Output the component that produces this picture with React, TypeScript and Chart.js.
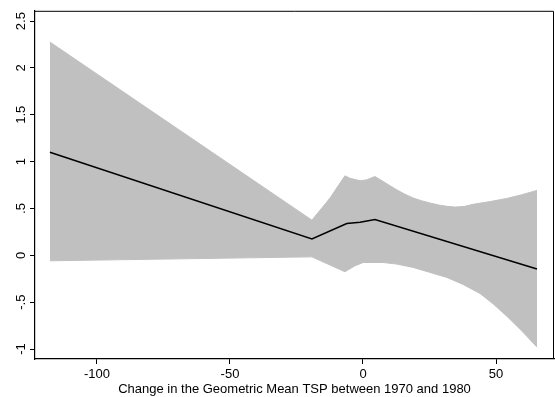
import React, { useEffect, useRef } from "react";
import { Chart, registerables } from "chart.js";

Chart.register(...registerables);

// ---- data ----
const xTicks = [-100, -50, 0, 50];
const yTicks = [-1, -0.5, 0, 0.5, 1, 1.5, 2, 2.5];
const yTickLabels = ["-1", "-.5", "0", ".5", "1", "1.5", "2", "2.5"];
const xTitle = "Change in the Geometric Mean TSP between 1970 and 1980";

const fitX = [-117.7, -19.2, -6.1, -1.1, 4.5, 65.4];
const fitY = [1.1, 0.175, 0.341, 0.354, 0.383, -0.146];

const upperX = [-117.7, -19.2, -12.4, -6.8, -4.9, -1.1, 1.4, 4.5, 7.6, 10.2, 12.7, 15.8, 18.9, 22.0, 25.2, 28.4, 31.5, 34.6, 38.0, 41.4, 47.8, 54.1, 59.8, 65.4];
const upperY = [2.277, 0.376, 0.612, 0.849, 0.823, 0.796, 0.806, 0.841, 0.788, 0.742, 0.7, 0.652, 0.612, 0.583, 0.559, 0.538, 0.524, 0.515, 0.522, 0.545, 0.574, 0.608, 0.648, 0.693];

const lowerX = [-117.7, -19.2, -6.8, -3.0, 0.1, 3.9, 7.6, 12.7, 18.9, 25.2, 31.5, 37.6, 44.0, 49.0, 54.1, 59.8, 65.4];
const lowerY = [-0.058, -0.016, -0.175, -0.111, -0.076, -0.076, -0.076, -0.093, -0.129, -0.182, -0.235, -0.31, -0.407, -0.52, -0.651, -0.81, -0.979];

const X_MIN = -123.3;
const X_MAX = 71.8;
const Y_MIN = -1.106;
const Y_MAX = 2.61;

const FONT = '"Liberation Sans", Arial, Helvetica, sans-serif';
const BAND = "rgb(192,192,192)";

const pts = (xs: number[], ys: number[]) => xs.map((x, i) => ({ x, y: ys[i] }));

const framePlugin = {
  id: "frameAndYLabels",
  afterDraw(chart: any) {
    const { ctx, chartArea } = chart;
    const { left, top, right, bottom } = chartArea;
    ctx.save();
    ctx.strokeStyle = "#000";
    ctx.lineWidth = 1;
    ctx.beginPath();
    ctx.moveTo(left, top + 0.5);
    ctx.lineTo(right - 0.5, top + 0.5);
    ctx.lineTo(right - 0.5, bottom);
    ctx.stroke();
    // rotated y tick labels
    const ys = chart.scales.y;
    ctx.fillStyle = "#000";
    ctx.font = `13px ${FONT}`;
    ctx.textAlign = "center";
    ctx.textBaseline = "middle";
    yTicks.forEach((v, i) => {
      const py = ys.getPixelForValue(v);
      ctx.save();
      ctx.translate(21, py);
      ctx.rotate(-Math.PI / 2);
      ctx.fillText(yTickLabels[i], 0, 0);
      ctx.restore();
    });
    ctx.restore();
  },
};

export default function App() {
  const ref = useRef<HTMLCanvasElement | null>(null);
  useEffect(() => {
    document.body.style.margin = "0";
    const canvas = ref.current!;
    const chart = new Chart(canvas, {
      type: "line",
      data: {
        datasets: [
          {
            data: pts(fitX, fitY),
            borderColor: "#000",
            borderWidth: 1.6,
            pointRadius: 0,
            fill: false,
            tension: 0,
          },
          {
            data: pts(upperX, upperY),
            borderColor: BAND,
            backgroundColor: BAND,
            borderWidth: 1,
            pointRadius: 0,
            fill: "+1",
            tension: 0,
          },
          {
            data: pts(lowerX, lowerY),
            borderColor: BAND,
            backgroundColor: BAND,
            borderWidth: 1,
            pointRadius: 0,
            fill: false,
            tension: 0,
          },
        ],
      },
      options: {
        animation: false,
        responsive: false,
        maintainAspectRatio: false,
        layout: { padding: { top: 8, right: 1, left: 0, bottom: 0 } },
        plugins: { legend: { display: false }, tooltip: { enabled: false } },
        scales: {
          x: {
            type: "linear",
            min: X_MIN,
            max: X_MAX,
            afterBuildTicks: (s: any) => {
              s.ticks = xTicks.map((v) => ({ value: v }));
            },
            afterFit: (s: any) => {
              s.height = 38;
            },
            grid: {
              display: true,
              drawOnChartArea: false,
              drawTicks: true,
              tickLength: 5,
              color: "#000",
              lineWidth: 1,
            },
            border: { display: true, color: "#000", width: 1.2 },
            ticks: {
              color: "#000",
              font: { family: FONT, size: 13 },
              padding: 3,
              maxRotation: 0,
              minRotation: 0,
              callback: (v: any) => String(v),
            },
            title: {
              display: true,
              text: xTitle,
              color: "#000",
              font: { family: FONT, size: 13 },
              padding: { top: 0, bottom: 0 },
            },
          },
          y: {
            type: "linear",
            min: Y_MIN,
            max: Y_MAX,
            afterBuildTicks: (s: any) => {
              s.ticks = yTicks.map((v) => ({ value: v }));
            },
            afterFit: (s: any) => {
              s.width = 35;
            },
            grid: {
              display: true,
              drawOnChartArea: false,
              drawTicks: true,
              tickLength: 5,
              color: "#000",
              lineWidth: 1,
            },
            border: { display: true, color: "#000", width: 1.2 },
            ticks: { color: "rgba(0,0,0,0)", font: { family: FONT, size: 13 } },
          },
        },
      },
      plugins: [framePlugin],
    });
    return () => chart.destroy();
  }, []);
  return (
    <div style={{ position: "absolute", left: 0, top: 0, width: 555, height: 397, background: "#fff" }}>
      <canvas ref={ref} width={555} height={397} style={{ width: 555, height: 397, display: "block" }} />
    </div>
  );
}
